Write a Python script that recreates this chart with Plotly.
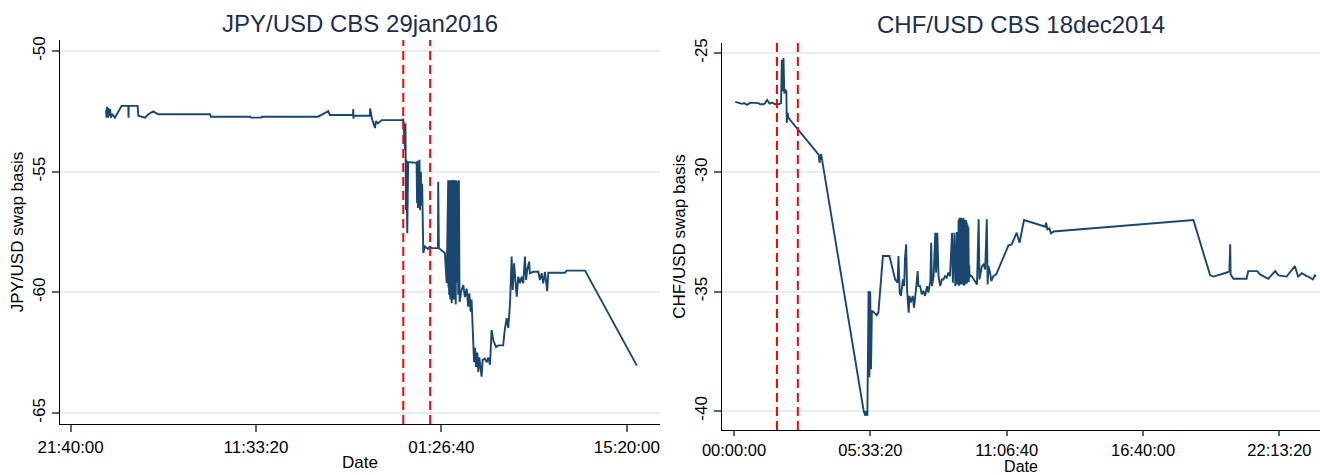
import plotly.graph_objects as go

# ---------------- JPY/USD cross-currency basis, 28-29 Jan 2016 ----------------
jpy_time = [
    "2016-01-28 00:19", "2016-01-28 00:21", "2016-01-28 00:23", "2016-01-28 00:28",
    "2016-01-28 00:30", "2016-01-28 00:32", "2016-01-28 00:37", "2016-01-28 00:41",
    "2016-01-28 00:46", "2016-01-28 00:59", "2016-01-28 01:29", "2016-01-28 01:59",
    "2016-01-28 02:00", "2016-01-28 02:01", "2016-01-28 02:41", "2016-01-28 02:44",
    "2016-01-28 03:14", "2016-01-28 03:29", "2016-01-28 03:51", "2016-01-28 04:14",
    "2016-01-28 08:06", "2016-01-28 08:11", "2016-01-28 11:06", "2016-01-28 11:10",
    "2016-01-28 11:58", "2016-01-28 12:00", "2016-01-28 16:12", "2016-01-28 16:58",
    "2016-01-28 17:05", "2016-01-28 18:49", "2016-01-28 18:50", "2016-01-28 18:51",
    "2016-01-28 18:53", "2016-01-28 20:05", "2016-01-28 20:06", "2016-01-28 20:14",
    "2016-01-28 20:28", "2016-01-28 20:32", "2016-01-28 20:41", "2016-01-28 20:58",
    "2016-01-28 22:34", "2016-01-28 22:35", "2016-01-28 22:43", "2016-01-28 22:45",
    "2016-01-28 22:47", "2016-01-28 22:49", "2016-01-28 22:53", "2016-01-28 22:57",
    "2016-01-28 23:35", "2016-01-28 23:37", "2016-01-28 23:39", "2016-01-28 23:41",
    "2016-01-28 23:43", "2016-01-28 23:46", "2016-01-28 23:48", "2016-01-28 23:50",
    "2016-01-28 23:54", "2016-01-28 23:58", "2016-01-29 00:00", "2016-01-29 00:05",
    "2016-01-29 00:12", "2016-01-29 00:26", "2016-01-29 00:35", "2016-01-29 00:44",
    "2016-01-29 01:11", "2016-01-29 01:12", "2016-01-29 01:15", "2016-01-29 01:42",
    "2016-01-29 01:50",
    "2016-01-29 01:57", "2016-01-29 01:58", "2016-01-29 02:00", "2016-01-29 02:01",
    "2016-01-29 02:03", "2016-01-29 02:04", "2016-01-29 02:06", "2016-01-29 02:07",
    "2016-01-29 02:09", "2016-01-29 02:10", "2016-01-29 02:12", "2016-01-29 02:13",
    "2016-01-29 02:15", "2016-01-29 02:16", "2016-01-29 02:18", "2016-01-29 02:19",
    "2016-01-29 02:21", "2016-01-29 02:22", "2016-01-29 02:24", "2016-01-29 02:25",
    "2016-01-29 02:27", "2016-01-29 02:28", "2016-01-29 02:30", "2016-01-29 02:31",
    "2016-01-29 02:33", "2016-01-29 02:35", "2016-01-29 02:40", "2016-01-29 02:42",
    "2016-01-29 02:45", "2016-01-29 02:48",
    "2016-01-29 02:57", "2016-01-29 03:05", "2016-01-29 03:12", "2016-01-29 03:20",
    "2016-01-29 03:27", "2016-01-29 03:32", "2016-01-29 03:38", "2016-01-29 03:42",
    "2016-01-29 03:50", "2016-01-29 03:53", "2016-01-29 03:58", "2016-01-29 04:02",
    "2016-01-29 04:08", "2016-01-29 04:12", "2016-01-29 04:17", "2016-01-29 04:23",
    "2016-01-29 04:27", "2016-01-29 04:32", "2016-01-29 04:42", "2016-01-29 04:50",
    "2016-01-29 04:57", "2016-01-29 05:05", "2016-01-29 05:12", "2016-01-29 05:20",
    "2016-01-29 05:32", "2016-01-29 05:42", "2016-01-29 06:04", "2016-01-29 06:12",
    "2016-01-29 06:20", "2016-01-29 06:27", "2016-01-29 06:35", "2016-01-29 06:42",
    "2016-01-29 06:47", "2016-01-29 06:53", "2016-01-29 07:05", "2016-01-29 07:12",
    "2016-01-29 07:20", "2016-01-29 07:27", "2016-01-29 07:34", "2016-01-29 07:42",
    "2016-01-29 07:47", "2016-01-29 07:52", "2016-01-29 08:01", "2016-01-29 08:04",
    "2016-01-29 08:19", "2016-01-29 08:42", "2016-01-29 08:49", "2016-01-29 08:57",
    "2016-01-29 09:04", "2016-01-29 09:12", "2016-01-29 09:20", "2016-01-29 09:22",
    "2016-01-29 09:27", "2016-01-29 10:42", "2016-01-29 10:49", "2016-01-29 12:12",
    "2016-01-29 16:05",
]
jpy_basis = [
    -52.45, -52.76, -52.31, -52.76,
    -52.35, -52.70, -52.40, -52.76,
    -52.60, -52.76, -52.27, -52.27,
    -52.76, -52.27, -52.27, -52.68,
    -52.76, -52.62, -52.50, -52.62,
    -52.62, -52.72, -52.72, -52.76,
    -52.76, -52.72, -52.72, -52.49,
    -52.65, -52.65, -52.40, -52.80,
    -52.68, -52.68, -52.38, -52.80,
    -53.19, -52.90, -53.00, -52.86,
    -52.86, -52.80, -54.10, -53.00,
    -56.60, -54.50, -57.55, -54.60,
    -54.63, -56.30, -54.55, -56.50,
    -54.60, -56.00, -54.50, -56.60,
    -55.00, -56.40, -55.50, -58.37,
    -58.10, -58.20, -58.10, -58.17,
    -58.17, -55.42, -58.17, -58.37,
    -59.61,
    -55.35, -59.80, -55.35, -60.10,
    -55.40, -59.90, -55.35, -60.30,
    -55.35, -60.00, -55.40, -60.45,
    -55.35, -60.20, -55.35, -59.90,
    -55.40, -60.30, -55.35, -60.00,
    -55.35, -59.70, -55.40, -60.50,
    -55.35, -59.60, -55.40, -60.10,
    -55.35, -60.40,
    -59.90, -59.70, -60.20, -59.85,
    -60.60, -60.04, -60.80, -60.30,
    -61.98, -62.90, -62.30, -63.10,
    -62.50, -63.30, -62.70, -63.30,
    -63.50, -62.80, -62.75, -62.90,
    -62.70, -63.00, -61.56, -62.00,
    -62.27, -62.20, -62.20, -61.50,
    -61.07, -61.48, -60.44, -58.52,
    -59.90, -58.80, -60.18, -59.35,
    -59.63, -59.35, -59.63, -58.52,
    -59.49, -59.08, -58.73, -59.21,
    -59.15, -59.15, -59.49, -59.21,
    -59.63, -59.15, -59.90, -59.95,
    -59.19, -59.19, -59.10, -59.10,
    -63.04,
]
jpy_events = ["2016-01-28 22:35", "2016-01-29 00:36"]
jpy_ticks = ["2016-01-27 21:40:00", "2016-01-28 11:33:20",
             "2016-01-29 01:26:40", "2016-01-29 15:20:00"]
jpy_yticks = [-65, -60, -55, -50]
jpy_ylabels = ["-65", "-60", "-55", "-50"]

# ---------------- CHF/USD cross-currency basis, 18 Dec 2014 ----------------
chf_time = [
    "2014-12-18 00:03", "2014-12-18 00:11", "2014-12-18 00:20", "2014-12-18 00:25",
    "2014-12-18 00:32", "2014-12-18 00:40", "2014-12-18 00:48", "2014-12-18 01:00",
    "2014-12-18 01:04", "2014-12-18 01:12", "2014-12-18 01:16", "2014-12-18 01:21",
    "2014-12-18 01:27", "2014-12-18 01:33", "2014-12-18 01:41", "2014-12-18 01:49",
    "2014-12-18 01:55", "2014-12-18 01:57", "2014-12-18 02:00", "2014-12-18 02:01",
    "2014-12-18 02:03", "2014-12-18 02:05", "2014-12-18 02:08", "2014-12-18 02:09",
    "2014-12-18 02:11", "2014-12-18 02:13", "2014-12-18 03:27", "2014-12-18 03:29",
    "2014-12-18 03:33", "2014-12-18 03:35", "2014-12-18 05:17", "2014-12-18 05:21",
    "2014-12-18 05:23", "2014-12-18 05:26", "2014-12-18 05:29", "2014-12-18 05:31",
    "2014-12-18 05:33", "2014-12-18 05:35", "2014-12-18 05:37", "2014-12-18 05:41",
    "2014-12-18 05:49", "2014-12-18 05:53", "2014-12-18 06:04", "2014-12-18 06:20",
    "2014-12-18 06:26", "2014-12-18 06:34", "2014-12-18 06:40", "2014-12-18 06:42",
    "2014-12-18 06:45", "2014-12-18 06:48", "2014-12-18 06:53", "2014-12-18 06:56",
    "2014-12-18 06:58", "2014-12-18 07:01", "2014-12-18 07:03", "2014-12-18 07:07",
    "2014-12-18 07:09", "2014-12-18 07:12", "2014-12-18 07:17", "2014-12-18 07:20",
    "2014-12-18 07:25", "2014-12-18 07:29", "2014-12-18 07:31", "2014-12-18 07:35",
    "2014-12-18 07:39", "2014-12-18 07:43", "2014-12-18 07:47", "2014-12-18 07:52",
    "2014-12-18 07:55", "2014-12-18 08:00", "2014-12-18 08:02", "2014-12-18 08:04",
    "2014-12-18 08:08", "2014-12-18 08:12", "2014-12-18 08:14", "2014-12-18 08:17",
    "2014-12-18 08:20", "2014-12-18 08:24", "2014-12-18 08:28", "2014-12-18 08:32",
    "2014-12-18 08:36", "2014-12-18 08:40", "2014-12-18 08:44", "2014-12-18 08:48",
    "2014-12-18 08:53", "2014-12-18 08:55", "2014-12-18 08:59", "2014-12-18 09:01",
    "2014-12-18 09:05", "2014-12-18 09:06", "2014-12-18 09:07", "2014-12-18 09:08",
    "2014-12-18 09:09", "2014-12-18 09:10", "2014-12-18 09:11", "2014-12-18 09:12",
    "2014-12-18 09:13", "2014-12-18 09:14", "2014-12-18 09:15", "2014-12-18 09:16",
    "2014-12-18 09:17", "2014-12-18 09:18", "2014-12-18 09:19", "2014-12-18 09:20",
    "2014-12-18 09:21", "2014-12-18 09:22", "2014-12-18 09:23", "2014-12-18 09:24",
    "2014-12-18 09:25", "2014-12-18 09:26", "2014-12-18 09:27", "2014-12-18 09:28",
    "2014-12-18 09:29", "2014-12-18 09:30", "2014-12-18 09:31", "2014-12-18 09:32",
    "2014-12-18 09:33", "2014-12-18 09:34", "2014-12-18 09:35", "2014-12-18 09:36",
    "2014-12-18 09:37", "2014-12-18 09:41", "2014-12-18 09:50", "2014-12-18 09:54",
    "2014-12-18 09:58", "2014-12-18 10:00", "2014-12-18 10:06", "2014-12-18 10:10",
    "2014-12-18 10:14", "2014-12-18 10:18", "2014-12-18 10:20", "2014-12-18 10:22",
    "2014-12-18 10:26", "2014-12-18 10:29", "2014-12-18 10:34", "2014-12-18 10:41",
    "2014-12-18 11:11", "2014-12-18 11:19", "2014-12-18 11:31", "2014-12-18 11:38",
    "2014-12-18 11:49", "2014-12-18 12:41", "2014-12-18 12:43", "2014-12-18 12:46",
    "2014-12-18 12:51", "2014-12-18 12:55", "2014-12-18 13:01", "2014-12-18 18:43",
    "2014-12-18 19:24", "2014-12-18 19:32", "2014-12-18 20:05", "2014-12-18 20:11",
    "2014-12-18 20:13", "2014-12-18 20:14", "2014-12-18 20:21", "2014-12-18 20:53",
    "2014-12-18 20:57", "2014-12-18 21:19", "2014-12-18 21:26", "2014-12-18 21:46",
    "2014-12-18 22:03", "2014-12-18 22:11", "2014-12-18 22:31", "2014-12-18 22:51",
    "2014-12-18 22:59", "2014-12-18 23:08", "2014-12-18 23:20", "2014-12-18 23:24",
    "2014-12-18 23:35", "2014-12-18 23:40", "2014-12-18 23:43",
]
chf_basis = [
    -27.05, -27.08, -27.13, -27.10,
    -27.17, -27.08, -27.10, -27.10,
    -27.15, -27.15, -27.10, -26.97,
    -27.12, -27.08, -27.15, -27.15,
    -27.10, -25.28, -26.60, -25.21,
    -26.70, -26.54, -26.60, -27.93,
    -27.50, -27.72, -29.26, -29.60,
    -29.23, -29.45, -40.00, -40.20,
    -40.00, -40.20, -34.97, -38.59,
    -35.00, -38.25, -35.81, -35.85,
    -35.99, -35.88, -33.51, -33.51,
    -33.93, -34.49, -34.62, -33.51,
    -35.04, -35.18, -34.49, -34.77,
    -33.58, -33.02, -34.90, -35.88,
    -35.18, -35.46, -35.18, -35.67,
    -34.90, -34.14, -34.77, -34.77,
    -35.11, -34.97, -35.18, -34.77,
    -35.04, -34.56, -32.95, -34.77,
    -34.35, -32.53, -34.21, -32.53,
    -34.35, -34.77, -34.49, -34.49,
    -34.35, -34.42, -34.20, -34.35,
    -32.53, -34.63, -32.53, -34.77,
    -32.50, -34.70, -32.50, -34.60,
    -32.00, -34.75, -31.90, -34.60,
    -32.00, -34.70, -31.90, -34.55,
    -31.95, -34.70, -32.00, -34.60,
    -31.90, -34.75, -32.00, -34.60,
    -32.05, -34.70, -32.00, -34.55,
    -32.10, -34.65, -32.20, -34.50,
    -32.30, -34.60, -33.90, -34.40,
    -34.30, -34.35, -34.63, -34.70,
    -31.97, -34.49, -33.93, -33.86,
    -34.07, -31.97, -34.70, -33.93,
    -34.20, -34.56, -34.35, -34.28,
    -33.06, -33.02, -32.53, -32.95,
    -32.00, -32.28, -32.11, -32.39,
    -32.35, -32.56, -32.48, -32.00,
    -34.32, -34.37, -34.20, -34.14,
    -33.02, -34.28, -34.46, -34.46,
    -34.14, -34.14, -34.28, -34.46,
    -34.14, -34.32, -34.37, -33.93,
    -34.37, -34.23, -34.35, -34.37,
    -34.49, -34.32, -34.35,
]
chf_events = ["2014-12-18 01:45", "2014-12-18 02:36"]
chf_ticks = ["2014-12-18 00:00:00", "2014-12-18 05:33:20", "2014-12-18 11:06:40",
             "2014-12-18 16:40:00", "2014-12-18 22:13:20"]
chf_yticks = [-40, -35, -30, -25]
chf_ylabels = ["-40", "-35", "-30", "-25"]

# ---------------- styling ----------------
FONT = "Liberation Sans, Arial, sans-serif"
LINE = "#1a476f"
GRID = "#e6eef2"
TITLE_COL = "#1e2e4a"
W, H = 1320, 475

fig = go.Figure()
fig.add_trace(go.Scatter(x=jpy_time, y=jpy_basis, mode="lines",
                         line=dict(color=LINE, width=1.9), xaxis="x", yaxis="y",
                         showlegend=False, hoverinfo="skip"))
fig.add_trace(go.Scatter(x=chf_time, y=chf_basis, mode="lines",
                         line=dict(color=LINE, width=1.9), xaxis="x2", yaxis="y2",
                         showlegend=False, hoverinfo="skip"))

# event markers
for xa, ya, events in (("x", "y", jpy_events), ("x2", "y2", chf_events)):
    for t in events:
        fig.add_shape(type="line", xref=xa, yref=ya + " domain", x0=t, x1=t, y0=0, y1=1,
                      line=dict(color="#ff0000", width=2, dash="9px,5px"), layer="above")


def xaxis(domain, rng, ticks, anchor, ticklen, tick_size, title_size, standoff):
    return dict(domain=domain, anchor=anchor, type="date", range=rng,
                tickmode="array", tickvals=ticks, tickformat="%H:%M:%S",
                ticks="outside", ticklen=ticklen, tickwidth=1.5, tickcolor="#666",
                showline=True, linecolor="black", linewidth=1.3, mirror=False,
                showgrid=False, zeroline=False, automargin=False,
                tickfont=dict(family=FONT, size=tick_size, color="black"),
                title=dict(text="Date", standoff=standoff,
                           font=dict(family=FONT, size=title_size, color="black")))


def yaxis(domain, rng, ticks, labels, anchor, title):
    return dict(domain=domain, anchor=anchor, range=rng, tickmode="array",
                tickvals=ticks, ticktext=labels, tickangle=-90,
                ticks="outside", ticklen=7, tickwidth=1.5, tickcolor="#666",
                showline=True, linecolor="black", linewidth=1.3,
                showgrid=True, gridcolor=GRID, gridwidth=2, zeroline=False,
                automargin=False,
                tickfont=dict(family=FONT, size=17, color="black"),
                title=dict(text=title, standoff=2,
                           font=dict(family=FONT, size=17, color="black")))


fig.update_layout(
    width=W, height=H, margin=dict(l=0, r=0, t=0, b=0),
    paper_bgcolor="white", plot_bgcolor="white",
    xaxis=xaxis([60 / W, 660 / W], ["2016-01-27 20:52", "2016-01-29 17:49"],
                jpy_ticks, "y", 7, 17, 17, 0),
    yaxis=yaxis([1 - 424 / H, 1 - 40 / H], [-65.46, -49.54], jpy_yticks, jpy_ylabels,
                "x", "JPY/USD swap basis"),
    xaxis2=xaxis([722 / W, 1.0], ["2014-12-17 23:30:40", "2014-12-18 23:52:30"],
                 chf_ticks, "y2", 5, 16.5, 16, 4),
    yaxis2=yaxis([1 - 430 / H, 1 - 43 / H], [-40.8, -24.58], chf_yticks, chf_ylabels,
                 "x2", "CHF/USD swap basis"),
    annotations=[
        dict(text="JPY/USD CBS 29jan2016", xref="x domain", yref="paper", x=0.5,
             y=1 - 24 / H, xanchor="center", yanchor="middle", showarrow=False,
             font=dict(family=FONT, size=24, color=TITLE_COL)),
        dict(text="CHF/USD CBS 18dec2014", xref="x2 domain", yref="paper", x=0.5,
             y=1 - 25 / H, xanchor="center", yanchor="middle", showarrow=False,
             font=dict(family=FONT, size=24, color=TITLE_COL)),
    ],
)

fig.write_html("out.html")
